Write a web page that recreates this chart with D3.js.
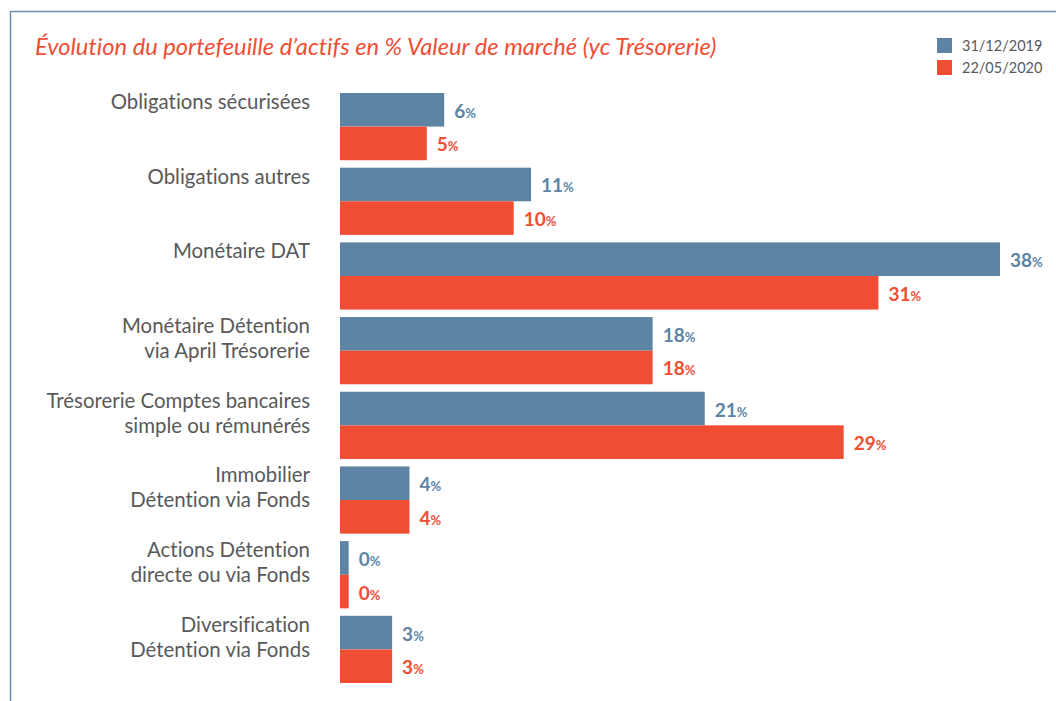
<!DOCTYPE html>
<html><head><meta charset="utf-8">
<script src="https://cdn.jsdelivr.net/npm/d3@7"></script>
<style>body{margin:0;background:#fff;} svg{display:block;} text{font-variant-ligatures:none;font-feature-settings:"liga" 0;}</style>
</head><body>
<svg id="chart" width="1056" height="701"></svg>
<script>
const title = "Évolution du portefeuille d’actifs en % Valeur de marché (yc Trésorerie)";
const categories = [
  ["Obligations sécurisées"],
  ["Obligations autres"],
  ["Monétaire DAT"],
  ["Monétaire Détention", "via April Trésorerie"],
  ["Trésorerie Comptes bancaires", "simple ou rémunérés"],
  ["Immobilier", "Détention via Fonds"],
  ["Actions Détention", "directe ou via Fonds"],
  ["Diversification", "Détention via Fonds"]
];
const seriesNames = ["31/12/2019", "22/05/2020"];
const values2019 = [6, 11, 38, 18, 21, 4, 0.5, 3];
const values2020 = [5, 10, 31, 18, 29, 4, 0.5, 3];
const labels2019 = ["6", "11", "38", "18", "21", "4", "0", "3"];
const labels2020 = ["5", "10", "31", "18", "29", "4", "0", "3"];
const colors = ["#5d84a5", "#ef4e35"];

const svg = d3.select("#chart");
const font = "Lato, sans-serif";

// frame
svg.append("path").attr("d", "M10.5,701 V11.5 H1056").attr("fill", "none")
  .attr("stroke", "#6a8fb0").attr("stroke-width", 1.5);

svg.append("text").attr("x", 35).attr("y", 55).text(title)
  .attr("font-family", font).attr("font-style", "italic").attr("font-size", 23.7)
  .attr("fill", colors[1]);

const ids = d3.range(categories.length);
const y = d3.scaleBand().domain(ids).range([93, 683]).paddingInner(0.1);
const x = d3.scaleLinear().domain([0, 38]).range([340, 1000]);
const ySub = d3.scaleBand().domain([0, 1]).range([0, y.bandwidth()]);

const series = [values2019, values2020];
const seriesLabels = [labels2019, labels2020];

const groups = svg.selectAll("g.grp").data(ids).join("g").attr("class", "grp")
  .attr("transform", d => `translate(0,${y(d)})`);

series.forEach((vals, s) => {
  groups.append("rect")
    .attr("x", x(0)).attr("y", ySub(s))
    .attr("width", d => x(vals[d]) - x(0))
    .attr("height", ySub.bandwidth())
    .attr("fill", colors[s]);
  const t = groups.append("text")
    .attr("x", d => x(vals[d]) + 10)
    .attr("y", ySub(s) + ySub.bandwidth() / 2 + 8)
    .attr("font-family", font).attr("font-weight", "bold")
    .attr("fill", colors[s]);
  t.append("tspan").attr("font-size", 19).text(d => seriesLabels[s][d]);
  t.append("tspan").attr("font-size", 13).text("%");
});

// category labels
groups.each(function(d) {
  const g = d3.select(this);
  categories[d].forEach((line, i) => {
    g.append("text").attr("x", 310).attr("y", 16 + i * 25)
      .attr("text-anchor", "end").attr("font-family", font).attr("font-size", 20.4)
      .attr("fill", "#595959").text(line);
  });
});

// legend
const leg = svg.append("g");
seriesNames.forEach((n, i) => {
  leg.append("rect").attr("x", 937).attr("y", 38 + i * 22).attr("width", 15).attr("height", 15).attr("fill", colors[i]);
  leg.append("text").attr("x", 962).attr("y", 51 + i * 22).text(n)
    .attr("font-family", font).attr("font-size", 14.5).attr("fill", "#595959");
});
</script>
</body></html>
